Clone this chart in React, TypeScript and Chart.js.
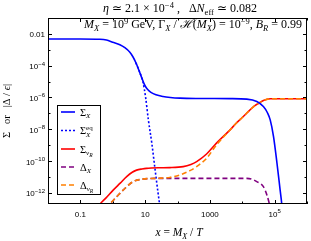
import React, { useEffect, useRef } from "react";
import { Chart, registerables } from "chart.js";

Chart.register(...registerables);

const SANS = '"Liberation Sans", Arial, sans-serif';
const SERIF = '"Liberation Serif", "Times New Roman", serif';

// Σ_X
const sigmaXx = [0.01, 0.1, 0.4, 0.64, 1.0, 1.66, 2.37, 3.38, 4.19, 5.19, 6.43, 7.96, 9.18, 10.6, 12.2, 15.1, 21.6, 35.6, 60, 119, 500, 4200, 13800, 28200, 45000, 60000, 73000, 92500, 118000, 148000, 166000, 175000];
const sigmaXy = [4.8e-3, 4.8e-3, 4.6e-3, 4.1e-3, 3.0e-3, 2.1e-3, 1.35e-3, 7.0e-4, 3.66e-4, 1.53e-4, 5.2e-5, 1.62e-5, 7.8e-6, 4.4e-6, 3.05e-6, 2.12e-6, 1.48e-6, 1.15e-6, 1.0e-6, 9.1e-7, 8.7e-7, 8.5e-7, 7.9e-7, 5.6e-7, 2.7e-7, 1.1e-7, 3.9e-8, 3.5e-9, 7.6e-11, 1.5e-12, 2e-13, 5e-14];

// Σ_X^eq
const sigmaEqx = [5.19, 6.43, 7.96, 8.55, 10.4, 12.6, 16.2, 20, 24.9, 27.9, 30];
const sigmaEqy = [1.53e-4, 5.2e-5, 1.62e-5, 1.0e-5, 9.5e-7, 3.9e-8, 1.2e-9, 3.7e-11, 1.1e-12, 2e-13, 5e-14];

// Σ_νR
const nuRx = [0.28, 0.4, 0.6, 1.03, 1.7, 2.69, 4.0, 5.45, 8, 11, 25, 58, 150, 260, 390, 790, 1600, 4200, 6600, 10000, 22000, 30000, 45000, 73000, 150000, 1e6];
const nuRy = [1e-13, 2e-13, 4.5e-13, 1.5e-12, 4.1e-12, 1.05e-11, 2.0e-11, 2.7e-11, 3.2e-11, 3.5e-11, 3.8e-11, 3.9e-11, 4.5e-11, 6.2e-11, 9.3e-11, 2.8e-10, 1.35e-9, 9.2e-9, 2.5e-8, 5.5e-8, 2.6e-7, 4.0e-7, 6.5e-7, 8.3e-7, 8.4e-7, 8.4e-7];

// Δ_X
const dXx = [0.6, 0.81, 1.1, 1.66, 2.5, 4.26, 7.8, 22.7, 1000, 13800, 20000, 28200, 45000, 58000, 69000, 80000];
const dXy = [1.1e-13, 2e-13, 3.8e-13, 9.3e-13, 2.1e-12, 5.1e-12, 7.2e-12, 8.2e-12, 8.2e-12, 8.2e-12, 7.2e-12, 5.1e-12, 2.5e-12, 7.2e-13, 2e-13, 5e-14];

// Δ_νR
const dnuRx = [0.6, 0.81, 1.1, 1.66, 2.5, 4.26, 7.8, 22.7, 58, 119, 250, 390, 790, 1600, 4200, 6600, 10000, 22000, 30000, 45000, 73000, 150000, 1e6];
const dnuRy = [1.1e-13, 2e-13, 3.8e-13, 9.3e-13, 2.1e-12, 5.1e-12, 7.2e-12, 8.3e-12, 9.4e-12, 1.35e-11, 2.6e-11, 4.5e-11, 1.5e-10, 1.05e-9, 9.1e-9, 2.5e-8, 5.5e-8, 2.6e-7, 4.0e-7, 6.5e-7, 8.3e-7, 8.4e-7, 8.4e-7];

const xTicks = [0.01, 0.1, 1, 10, 100, 1000, 1e4, 1e5, 1e6];
const xLabelBase = ["", "0.1", "", "10", "", "1000", "", "10", ""];
const xLabelSup = ["", "", "", "", "", "", "", "5", ""];
const yTicks = [0.1, 0.01, 1e-3, 1e-4, 1e-5, 1e-6, 1e-7, 1e-8, 1e-9, 1e-10, 1e-11, 1e-12];
const yLabelBase = ["", "0.01", "", "10", "", "10", "", "10", "", "10", "", "10"];
const yLabelSup = ["", "", "", "−4", "", "−6", "", "−8", "", "−10", "", "−12"];

const BLUE = "#0000ff";
const RED = "#ff0000";
const PURPLE = "#800080";
const ORANGE = "#ff8000";

type Seg = { t: string; it?: boolean; sz?: number; dy?: number; fam?: string; st?: string; stDy?: number; stIt?: boolean };

function fontOf(s: Seg, base: number, fam: string, it?: boolean) {
  return `${it ? "italic " : ""}${s.sz ?? base}px ${s.fam ?? fam}`;
}

function drawRich(ctx: CanvasRenderingContext2D, segs: Seg[], x: number, y: number, align: string, base: number, fam: string) {
  const ws: number[] = [];
  let w = 0;
  for (const s of segs) {
    ctx.font = fontOf(s, base, fam, s.it);
    let sw = ctx.measureText(s.t).width;
    if (s.st) {
      ctx.font = fontOf(s, base, fam, s.stIt);
      sw = Math.max(sw, ctx.measureText(s.st).width);
    }
    ws.push(sw);
    w += sw;
  }
  let cx = align === "left" ? x : align === "center" ? x - w / 2 : x - w;
  ctx.textAlign = "left";
  ctx.textBaseline = "alphabetic";
  segs.forEach((s, i) => {
    ctx.font = fontOf(s, base, fam, s.it);
    ctx.fillText(s.t, cx, y + (s.dy ?? 0));
    if (s.st) {
      ctx.font = fontOf(s, base, fam, s.stIt);
      ctx.fillText(s.st, cx, y + (s.stDy ?? 0));
    }
    cx += ws[i];
  });
}

const SUP = { sz: 8.5, dy: -4.5 };
const SUB = { sz: 8.5, dy: 2.5 };
const titleSegs: Seg[] = [
  { t: "η", it: true }, { t: " ≃ 2.1 × 10" }, { t: "−4", ...SUP }, { t: " ,   Δ" }, { t: "N", it: true }, { t: "eff", ...SUB }, { t: " ≃ 0.082" },
];
const annSegs: Seg[] = [
  { t: "M", it: true }, { t: "X", it: true, ...SUB }, { t: " = 10" }, { t: "9", ...SUP }, { t: " GeV, Γ" }, { t: "X", it: true, ...SUB },
  { t: " / " }, { t: "ℋ", it: true }, { t: "(" }, { t: "M", it: true }, { t: "X", it: true, ...SUB }, { t: ") = 10" }, { t: "−9", ...SUP },
  { t: ", " }, { t: "B", it: true }, { t: "R", it: true, ...SUB }, { t: " = 0.99" },
];
const xTitleSegs: Seg[] = [{ t: "x", it: true }, { t: " = " }, { t: "M", it: true }, { t: "X", it: true, sz: 8, dy: 2.5 }, { t: " / " }, { t: "T", it: true }];
const yTitleSegs: Seg[] = [{ t: "Σ   or   |Δ / " }, { t: "ϵ", it: true }, { t: "|" }];

const legendItems: { segs: Seg[]; color: string; dash: number[] }[] = [
  { segs: [{ t: "Σ" }, { t: "X", it: true, sz: 7, dy: 2.5 }], color: BLUE, dash: [] },
  { segs: [{ t: "Σ" }, { t: "eq", sz: 7, dy: -4, st: "X", stDy: 2.5, stIt: true }], color: BLUE, dash: [2, 2] },
  { segs: [{ t: "Σ" }, { t: "ν", it: true, sz: 7, dy: 2.5 }, { t: "R", it: true, sz: 5.5, dy: 4 }], color: RED, dash: [] },
  { segs: [{ t: "Δ" }, { t: "X", it: true, sz: 7, dy: 2.5 }], color: PURPLE, dash: [5, 3] },
  { segs: [{ t: "Δ" }, { t: "ν", it: true, sz: 7, dy: 2.5 }, { t: "R", it: true, sz: 5.5, dy: 4 }], color: ORANGE, dash: [5, 3] },
];

const framePlugin = {
  id: "frame",
  afterDraw(chart: any) {
    const { ctx, chartArea: a, scales } = chart;
    const xs = scales.x;
    const ys = scales.y;
    ctx.save();
    ctx.strokeStyle = "#000";
    ctx.lineWidth = 1;
    ctx.setLineDash([]);
    ctx.strokeRect(a.left + 0.5, a.top + 0.5, a.right - a.left - 1, a.bottom - a.top - 1);
    ctx.beginPath();
    xTicks.forEach((v, i) => {
      const px = Math.round(xs.getPixelForValue(v)) + 0.5;
      const len = xLabelBase[i] ? 4 : 2.5;
      ctx.moveTo(px, a.bottom);
      ctx.lineTo(px, a.bottom - len);
      ctx.moveTo(px, a.top);
      ctx.lineTo(px, a.top + len);
    });
    yTicks.forEach((v, i) => {
      const py = Math.round(ys.getPixelForValue(v)) + 0.5;
      const len = yLabelBase[i] ? 4 : 2.5;
      ctx.moveTo(a.left, py);
      ctx.lineTo(a.left + len, py);
      ctx.moveTo(a.right, py);
      ctx.lineTo(a.right - len, py);
    });
    ctx.stroke();

    ctx.fillStyle = "#000";
    xTicks.forEach((v, i) => {
      if (!xLabelBase[i]) return;
      const px = xs.getPixelForValue(v);
      const segs: Seg[] = [{ t: xLabelBase[i] }];
      if (xLabelSup[i]) segs.push({ t: xLabelSup[i], sz: 6, dy: -3.5 });
      drawRich(ctx, segs, px, a.bottom + 12.5, "center", 8, SANS);
    });
    yTicks.forEach((v, i) => {
      if (!yLabelBase[i]) return;
      const py = ys.getPixelForValue(v);
      const segs: Seg[] = [{ t: yLabelBase[i] }];
      if (yLabelSup[i]) segs.push({ t: yLabelSup[i], sz: 6, dy: -3.5 });
      drawRich(ctx, segs, a.left - 3, py + 3.5, "right", 8, SANS);
    });

    drawRich(ctx, titleSegs, 180, 12, "center", 12, SERIF);
    drawRich(ctx, annSegs, 302, 28, "right", 12, SERIF);
    drawRich(ctx, xTitleSegs, 179, 236, "center", 11.5, SERIF);
    ctx.save();
    ctx.translate(10, (a.top + a.bottom) / 2);
    ctx.rotate(-Math.PI / 2);
    drawRich(ctx, yTitleSegs, 0, 0, "center", 10.5, SERIF);
    ctx.restore();

    // legend
    const lx = 57, ly = 105, lw = 43, lh = 89;
    ctx.fillStyle = "#fff";
    ctx.fillRect(lx, ly, lw, lh);
    ctx.strokeStyle = "#000";
    ctx.strokeRect(lx + 0.5, ly + 0.5, lw, lh);
    const rows = [112, 130.5, 149, 167, 185];
    legendItems.forEach((it, i) => {
      const y = rows[i];
      ctx.strokeStyle = it.color;
      ctx.lineWidth = 1.6;
      ctx.setLineDash(it.dash);
      ctx.beginPath();
      ctx.moveTo(61, y);
      ctx.lineTo(75, y);
      ctx.stroke();
      ctx.setLineDash([]);
      ctx.fillStyle = "#000";
      drawRich(ctx, it.segs, 80, y + 3.5, "left", 10.5, SERIF);
    });
    ctx.restore();
  },
};

function toPts(xs: number[], ys: number[]) {
  return xs.map((x, i) => ({ x, y: ys[i] }));
}

export default function App() {
  const ref = useRef<HTMLCanvasElement>(null);
  useEffect(() => {
    const canvas = ref.current;
    if (!canvas) return;
    const common = { pointRadius: 0, fill: false, cubicInterpolationMode: "monotone" as const, borderWidth: 1.6 };
    const chart = new Chart(canvas, {
      type: "line",
      data: {
        datasets: [
          { ...common, label: "Σ_X", data: toPts(sigmaXx, sigmaXy), borderColor: BLUE },
          { ...common, label: "Δ_νR", data: toPts(dnuRx, dnuRy), borderColor: ORANGE, borderDash: [5, 3] },
          { ...common, label: "Δ_X", data: toPts(dXx, dXy), borderColor: PURPLE, borderDash: [5, 3] },
          { ...common, label: "Σ_νR", data: toPts(nuRx, nuRy), borderColor: RED },
          { ...common, label: "Σ_X^eq", data: toPts(sigmaEqx, sigmaEqy), borderColor: BLUE, borderDash: [2, 2] },
        ],
      },
      options: {
        responsive: false,
        animation: false,
        events: [],
        layout: { padding: { top: 18, right: 4, left: 0, bottom: 0 } },
        plugins: { legend: { display: false }, title: { display: false }, tooltip: { enabled: false } },
        scales: {
          x: {
            type: "logarithmic",
            min: 0.01,
            max: 1e6,
            grid: { display: false },
            border: { display: false },
            ticks: { display: false },
            afterFit: (s: any) => { s.height = 37; },
          },
          y: {
            type: "logarithmic",
            min: 2e-13,
            max: 0.1,
            grid: { display: false },
            border: { display: false },
            ticks: { display: false },
            afterFit: (s: any) => { s.width = 48; },
          },
        },
      },
      plugins: [framePlugin],
    });
    return () => chart.destroy();
  }, []);
  return (
    <div style={{ position: "absolute", left: 0, top: 0, width: 311, height: 241, background: "#fff" }}>
      <canvas ref={ref} width={311} height={241} style={{ width: 311, height: 241, display: "block" }} />
    </div>
  );
}
